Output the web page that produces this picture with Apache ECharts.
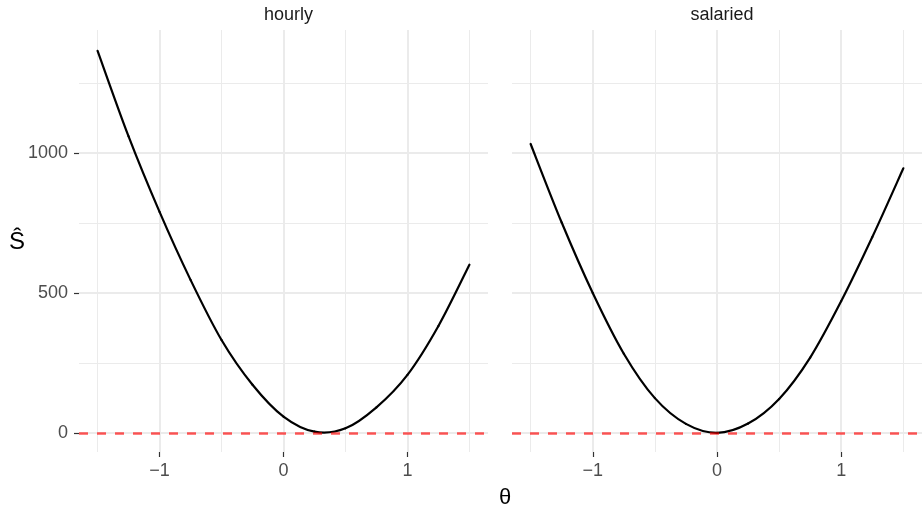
<!DOCTYPE html>
<html>
<head>
<meta charset="utf-8">
<title>S hat vs theta</title>
<script src="https://cdn.jsdelivr.net/npm/echarts@6/dist/echarts.min.js"></script>
<style>
	html, body { margin: 0; padding: 0; background: #fff; }
	#main { width: 923px; height: 507px; }
</style>
</head>
<body>
<div id="main"></div>
<script>
/* 数据 */
var panels = ['hourly', 'salaried'];
var thetas = [-1.5, -1.25, -1, -0.75, -0.5, -0.25, 0, 0.25, 0.5, 0.75, 1, 1.25, 1.5];
var hourlyS = [1366, 1060, 790, 547, 332, 172, 58, 4, 16, 91, 207, 382, 601];
var salariedS = [1033, 752, 500, 283, 124, 32, 0, 33, 121, 269, 471, 700, 946];
var xMajor = [-1, 0, 1];
var xMinor = [-1.5, -0.5, 0.5, 1.5];
var yMajor = [0, 500, 1000];
var yMinor = [250, 750, 1250];

var xRange = [-1.65, 1.65];
var yRange = [-68.6, 1440.6];

var FONT = '"Liberation Sans", Arial, Helvetica, sans-serif';

function zip(a, b){
	var out = [], i;
	for (i = 0; i < a.length; i++) {
		out.push([a[i], b[i]]);
	}
	return out;
}

function minusFmt(v){
	return v < 0 ? '\u2212' + Math.abs(v) : String(v);
}

/* 曲线：每段用 Catmull-Rom 转成贝塞尔，点位由 api.coord 换算 */
function curveRender(xs, ys){
	var n = xs.length;
	return function(params, api){
		var i = params.dataIndex;
		if (i >= n - 1) return null;
		function p(k){
			k = Math.max(0, Math.min(n - 1, k));
			return api.coord([xs[k], ys[k]]);
		}
		var p0 = p(i - 1), p1 = p(i), p2 = p(i + 1), p3 = p(i + 2);
		return {
			type: 'bezierCurve',
			shape: {
				x1: p1[0], y1: p1[1],
				x2: p2[0], y2: p2[1],
				cpx1: p1[0] + (p2[0] - p0[0]) / 6,
				cpy1: p1[1] + (p2[1] - p0[1]) / 6,
				cpx2: p2[0] - (p3[0] - p1[0]) / 6,
				cpy2: p2[1] - (p3[1] - p1[1]) / 6
			},
			style: { stroke: '#000', lineWidth: 2.2, fill: null, lineCap: 'round' }
		};
	};
}

var grids = [
	{ left: 79, top: 30, width: 409, height: 422 },
	{ left: 512, top: 30, width: 410, height: 422 }
];

var xAxes = [], yAxes = [], series = [], titles = [];

panels.forEach(function(name, i){
	var first = i === 0;
	var vals = first ? hourlyS : salariedS;
	/* 主刻度 + 主网格线 */
	xAxes.push({
		gridIndex: i, type: 'value', min: xRange[0], max: xRange[1], position: 'bottom',
		axisLine: { show: false, onZero: false },
		axisTick: { show: true, customValues: xMajor, length: 5, lineStyle: { color: '#333', width: 1.2 } },
		axisLabel: { customValues: xMajor, formatter: minusFmt, margin: 10, color: '#4d4d4d', fontSize: 18, fontFamily: FONT },
		splitLine: { show: true, lineStyle: { color: '#ebebeb', width: 2 } }
	});
	/* 次网格线 */
	xAxes.push({
		gridIndex: i, type: 'value', min: xRange[0], max: xRange[1], position: 'top',
		axisLine: { show: false, onZero: false },
		axisTick: { show: false, customValues: xMinor },
		axisLabel: { show: false, customValues: xMinor },
		splitLine: { show: true, lineStyle: { color: '#ebebeb', width: 1 } }
	});
	yAxes.push({
		gridIndex: i, type: 'value', min: yRange[0], max: yRange[1], position: 'left',
		axisLine: { show: false, onZero: false },
		axisTick: { show: first, customValues: yMajor, length: 5, lineStyle: { color: '#333', width: 1.2 } },
		axisLabel: { show: first, customValues: yMajor, formatter: minusFmt, margin: 11, color: '#4d4d4d', fontSize: 18, fontFamily: FONT },
		splitLine: { show: true, lineStyle: { color: '#ebebeb', width: 2 } }
	});
	yAxes.push({
		gridIndex: i, type: 'value', min: yRange[0], max: yRange[1], position: 'right',
		axisLine: { show: false, onZero: false },
		axisTick: { show: false, customValues: yMinor },
		axisLabel: { show: false, customValues: yMinor },
		splitLine: { show: true, lineStyle: { color: '#ebebeb', width: 1 } }
	});

	series.push({
		name: name,
		type: 'custom',
		coordinateSystem: 'cartesian2d',
		xAxisIndex: i * 2,
		yAxisIndex: i * 2,
		data: zip(thetas, vals),
		encode: { x: 0, y: 1 },
		renderItem: curveRender(thetas, vals),
		z: 3,
		markLine: {
			silent: true,
			symbol: 'none',
			label: { show: false },
			lineStyle: { color: 'rgba(255,0,0,0.65)', type: [9, 9], width: 2.5 },
			data: [{ yAxis: 0 }]
		}
	});

	titles.push({
		text: name,
		left: grids[i].left + grids[i].width / 2,
		top: 1,
		textAlign: 'center',
		textStyle: { fontSize: 18, fontWeight: 'normal', color: '#1a1a1a', fontFamily: FONT }
	});
});

/* 坐标轴标题 */
titles.push({
	text: '\u03b8', left: 500, top: 482, textAlign: 'center',
	textStyle: { fontSize: 22, fontWeight: 'normal', color: '#000', fontFamily: FONT }
});
titles.push({
	text: '\u015c', left: 4, top: 225,
	textStyle: { fontSize: 24, fontWeight: 'normal', color: '#000', fontFamily: FONT }
});

var chart = echarts.init(document.getElementById('main'));
chart.setOption({
	animation: false,
	backgroundColor: '#fff',
	title: titles,
	grid: grids,
	xAxis: xAxes,
	yAxis: yAxes,
	series: series
});
</script>
</body>
</html>
